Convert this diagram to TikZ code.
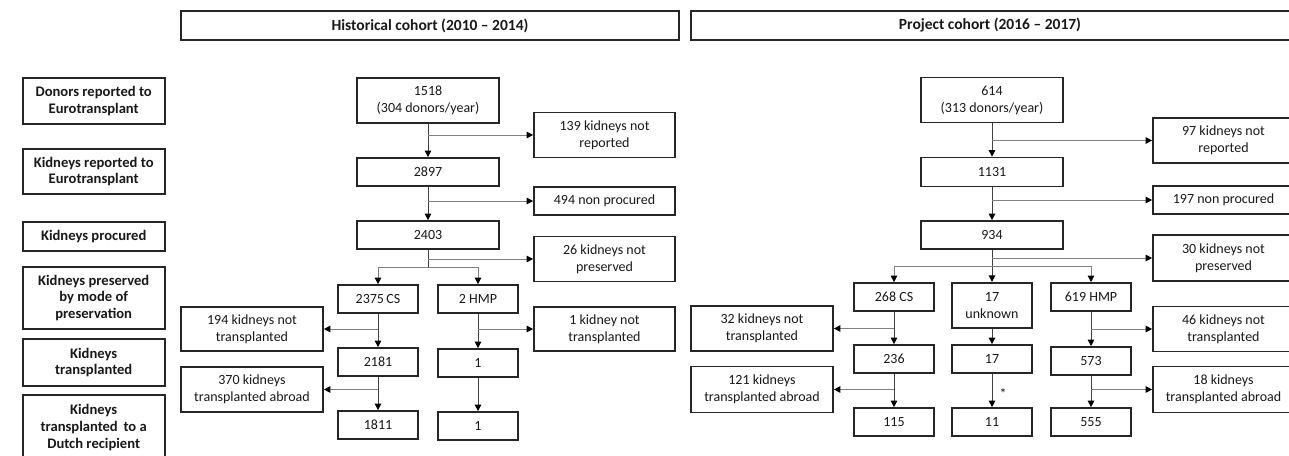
\documentclass[tikz,border=0pt]{standalone}
\usepackage{fontspec}
\setmainfont{Carlito}
\usetikzlibrary{arrows.meta}
\begin{document}
\begin{tikzpicture}[x=1pt,y=-1pt,
  box/.style={draw=black!85, line width=1.7pt, inner sep=0pt, align=center,
    font=\fontsize{14}{16.8}\selectfont, text=black!90},
  lab/.style={box, font=\bfseries\fontsize{14.6}{16.8}\selectfont, minimum width=142pt},
  wide/.style={box, minimum width=142pt},
  small/.style={box, minimum width=80pt, minimum height=28pt},
  tipk/.style={-{Triangle[length=6.5pt,width=6.5pt,color=black]}},
  stem/.style={draw=black!75, line width=1pt, tipk},
  brl/.style={draw=black!50, line width=1pt, tipk},
  plain/.style={draw=black!75, line width=1pt}
]
\clip (0,0) rectangle (1289,455);
\fill[white] (0,0) rectangle (1289,455);

% headers
\node[box, font=\bfseries\fontsize{15.5}{18}\selectfont, minimum width=498pt, minimum height=29pt] (hL) at (430,25.5) {Historical cohort (2010 -- 2014)};
\node[box, minimum width=610pt, minimum height=29pt] (hR) at (996,25.5) {};
\node[font=\bfseries\fontsize{15.5}{18}\selectfont, text=black!90] (hRt) at (990,25.5) {Project cohort (2016 -- 2017)};

% left labels
\node[lab, minimum height=46pt] (l1) at (93.7,101) {Donors reported to\\Eurotransplant};
\node[lab, minimum height=45pt] (l2) at (93.7,171.5) {Kidneys reported to\\Eurotransplant};
\node[lab, minimum height=29pt] (l3) at (93.7,236.5) {Kidneys procured};
\node[lab, minimum height=62pt] (l4) at (93.7,298) {Kidneys preserved\\by mode of\\preservation};
\node[lab, minimum height=47pt] (l5) at (93.7,362.5) {Kidneys\\transplanted};
\node[lab, minimum height=65pt] (l6) at (93.7,427.5) {Kidneys\\transplanted\, to a\\Dutch recipient};

% historical cohort
\node[wide, minimum height=45pt] (n1518) at (428,100.5) {1518\\(304 donors/year)};
\node[wide, minimum width=141pt, minimum height=45pt] (n139) at (604.5,135) {139 kidneys not\\reported};
\node[wide, minimum height=28pt] (n2897) at (428,172) {2897};
\node[wide, minimum width=141pt, minimum height=28pt] (n494) at (604.5,201) {494 non procured};
\node[wide, minimum height=28pt] (n2403) at (428,235) {2403};
\node[wide, minimum width=141pt, minimum height=45pt] (n26) at (604.5,259) {26 kidneys not\\preserved};
\node[small] (nCS) at (378,299) {2375\,CS};
\node[small] (nHMP) at (478,299) {2 HMP};
\node[wide, minimum height=44pt] (n194) at (252,329) {194 kidneys not\\transplanted};
\node[wide, minimum width=141pt, minimum height=44pt] (n1k) at (604.5,329) {1 kidney not\\transplanted};
\node[small] (n2181) at (378,362) {2181};
\node[small] (n1a) at (478,363) {1};
\node[wide, minimum height=45pt] (n370) at (252,389.5) {370 kidneys\\transplanted abroad};
\node[small] (n1811) at (378,425) {1811};
\node[small] (n1b) at (478,426) {1};

\draw[stem] (n1518) -- (n2897);
\draw[brl] (n1518.south |- n139.west) -- (n139.west);
\draw[stem] (n2897) -- (n2403);
\draw[brl] (n2897.south |- n494.west) -- (n494.west);
\coordinate (s1) at (428,267);
\draw[plain] (n2403.south) -- (s1);
\draw[brl] (n2403.south |- n26.west) -- (n26.west);
\draw[brl] (s1) -| (nCS.north);
\draw[brl] (s1) -| (nHMP.north);
\draw[stem] (nCS) -- (n2181);
\draw[brl] (nCS.south |- n194.east) -- (n194.east);
\draw[stem] (nHMP) -- (n1a);
\draw[brl] (nHMP.south |- n1k.west) -- (n1k.west);
\draw[stem] (n2181) -- (n1811);
\draw[brl] (n2181.south |- n370.east) -- (n370.east);
\draw[stem] (n1a) -- (n1b);

% project cohort
\node[wide, minimum height=45pt] (n614) at (992,100) {614\\(313 donors/year)};
\node[wide, minimum width=141pt, minimum height=45pt] (n97) at (1223.5,140.5) {97 kidneys not\\reported};
\node[wide, minimum height=29pt] (n1131) at (992,172) {1131};
\node[wide, minimum width=141pt, minimum height=28pt] (n197) at (1223.5,200) {197 non procured};
\node[wide, minimum height=28pt] (n934) at (992,235) {934};
\node[wide, minimum width=141pt, minimum height=46pt] (n30) at (1223.5,258) {30 kidneys not\\preserved};
\node[small] (nCS2) at (894,297) {268 CS};
\node[small, minimum height=45.6pt] (nU) at (992,305.5) {17\\unknown};
\node[small] (nHMP2) at (1091,297) {619 HMP};
\node[wide, minimum height=45pt] (n32) at (762,328.5) {32 kidneys not\\transplanted};
\node[wide, minimum width=141pt, minimum height=45pt] (n46) at (1223.5,329) {46 kidneys not\\transplanted};
\node[small] (n236) at (894,359) {236};
\node[small] (n17) at (992,359) {17};
\node[small] (n573) at (1091,361) {573};
\node[wide, minimum height=46pt] (n121) at (762,389.5) {121 kidneys\\transplanted abroad};
\node[wide, minimum width=141pt, minimum height=46pt] (n18) at (1223.5,389.5) {18 kidneys\\transplanted abroad};
\node[small] (n115) at (894,422) {115};
\node[small] (n11) at (992,422) {11};
\node[small] (n555) at (1091,422) {555};

\draw[stem] (n614) -- (n1131);
\draw[brl] (n614.south |- n97.west) -- (n97.west);
\draw[stem] (n1131) -- (n934);
\draw[brl] (n1131.south |- n197.west) -- (n197.west);
\coordinate (s2) at (992,266);
\draw[plain] (n934.south) -- (s2);
\draw[brl] (n934.south |- n30.west) -- (n30.west);
\draw[brl] (s2) -| (nCS2.north);
\draw[stem] (s2) -- (nU.north);
\draw[brl] (s2) -| (nHMP2.north);
\draw[stem] (nCS2) -- (n236);
\draw[brl] (nCS2.south |- n32.east) -- (n32.east);
\draw[stem] (nU) -- (n17);
\draw[stem] (nHMP2) -- (n573);
\draw[brl] (nHMP2.south |- n46.west) -- (n46.west);
\draw[stem] (n236) -- (n115);
\draw[brl] (n236.south |- n121.east) -- (n121.east);
\draw[stem] (n17) -- node[right=7pt, yshift=-3pt, inner sep=0pt, font=\fontsize{14}{16}\selectfont, text=black!90] (ast) {*} (n11);
\draw[stem] (n573) -- (n555);
\draw[brl] (n573.south |- n18.west) -- (n18.west);
\end{tikzpicture}
\end{document}
